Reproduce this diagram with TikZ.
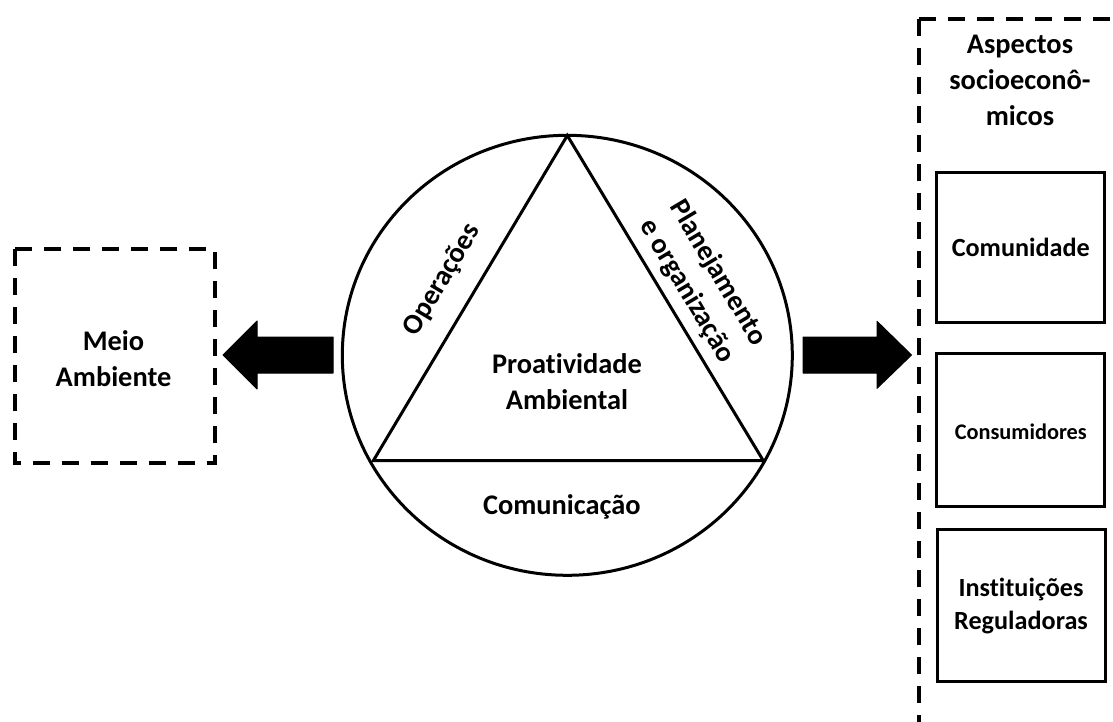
\documentclass[tikz,border=0pt]{standalone}
\usepackage{fontspec}
\usetikzlibrary{shapes.geometric}
\setmainfont{Carlito}[Ligatures=NoCommon]
\begin{document}
\begin{tikzpicture}[x=1pt,y=-1pt,
  lbl/.style={font=\fontsize{28.4}{36}\selectfont\bfseries, align=center, inner sep=0pt},
  boxlbl/.style={font=\fontsize{26.2}{33}\selectfont\bfseries, align=center, inner sep=0pt},
  smalllbl/.style={font=\fontsize{22.3}{28}\selectfont\bfseries, align=center, inner sep=0pt},
  dashline/.style={line width=4.2pt, dash pattern=on 17pt off 12pt},
  solidbox/.style={draw, line width=3pt, minimum width=168pt, outer sep=0pt},
  blockarrow/.style={fill=black, draw=black, line width=1pt, line join=round}]
\useasboundingbox (0,0) rectangle (1113,722);

% central circle with the triangle inside
\node[draw, ellipse, line width=3pt, minimum width=450pt, minimum height=440pt, inner sep=0pt] (circ) at (567.3,355.3) {};
\coordinate (apex) at (567.3,135.5);
\coordinate (bl) at (373.3,460.7);
\coordinate (br) at (763.3,460.7);
\draw[line width=3pt, line join=miter] (apex) -- (bl) -- (br) -- cycle;

\node[lbl] (proat) at (567,381.5) {Proatividade\\Ambiental};
\node[lbl] (comun) at (561.8,506.7) {Comunicação};
\node[lbl, rotate=59.2] (oper) at (442.3,280) {Operações};
\node[lbl, rotate=-59.2] (plan) at (702.5,282) {Planejamento\\e organização};

% left: environment box
\draw[dashline] (15,249) rectangle (215,463.3);
\node[lbl] (meio) at (113.5,358.5) {Meio\\Ambiente};

% right: socio-economic frame, open to the right and bottom
\draw[dashline] (919.3,19) -- (1130,19);
\draw[dashline] (919.3,19) -- (919.3,740);
\node[lbl] (socio) at (1020,80) {Aspectos\\socioeconô-\\micos};

\node[solidbox, minimum height=150pt] (comunidade) at (1020.8,247.3) {};
\node[boxlbl] at (comunidade) {Comunidade};
\node[solidbox, minimum height=152.7pt] (consum) at (1020.8,430.3) {};
\node[smalllbl] at (1020.8,431.7) {Consumidores};
\node[solidbox, minimum height=152.4pt] (instit) at (1021,605.5) {};
\node[boxlbl] at (1021,606.5) {Instituições\\Reguladoras};

% block arrows leaving the circle
\coordinate (ltail) at (333,355);
\coordinate (rtail) at (803,355);
\fill[blockarrow] (ltail) ++(0,-18) -- ++(-76,0) -- ++(0,-16) -- (223,355) -- (257,389) -- ++(0,-16) -- ++(76,0) -- cycle;
\fill[blockarrow] (rtail) ++(0,-18) -- ++(74,0) -- ++(0,-15.7) -- (911.5,355) -- (877,388.3) -- ++(0,-15.3) -- ++(-74,0) -- cycle;
\end{tikzpicture}
\end{document}
